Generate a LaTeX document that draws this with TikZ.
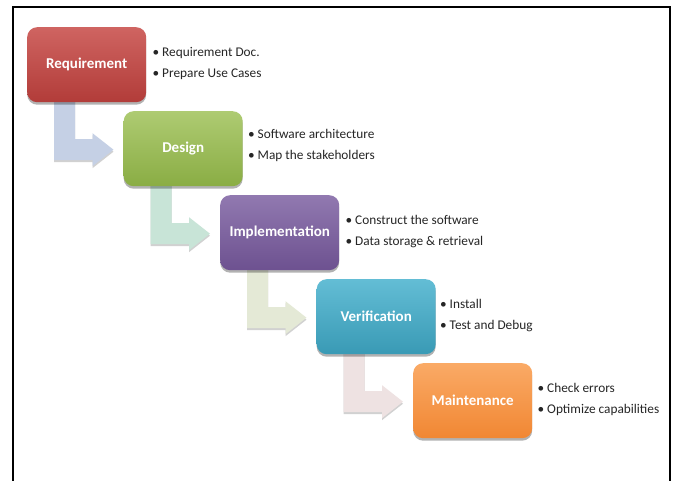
\documentclass[tikz,border=0pt]{standalone}
\usepackage{fontspec}
\setmainfont{Carlito}
\usetikzlibrary{calc,shadows,backgrounds}

% stage colours: lighter top, darker bottom
\definecolor{reqT}{HTML}{CF6461}\definecolor{reqB}{HTML}{B23C39}
\definecolor{desT}{HTML}{AECB72}\definecolor{desB}{HTML}{8AAD44}
\definecolor{impT}{HTML}{9179B0}\definecolor{impB}{HTML}{6D5190}
\definecolor{verT}{HTML}{63BDD5}\definecolor{verB}{HTML}{399AB5}
\definecolor{maiT}{HTML}{FAAA66}\definecolor{maiB}{HTML}{F18733}
% connector tints
\definecolor{arrA}{HTML}{C5D0E5}
\definecolor{arrB}{HTML}{C8E4D7}
\definecolor{arrC}{HTML}{E4E9D6}
\definecolor{arrD}{HTML}{EEE2E2}
\definecolor{bodytext}{HTML}{262626}

% bent arrow from the lower left of stage #1 to the west side of stage #2
\newcommand\bentarrow[3]{%
  \fill[#3, drop shadow={shadow xshift=0pt, shadow yshift=-2pt, opacity=.18, fill=black}]
    let \p1=($(#1.south west)+(27,-3)$), \p2=($(#2.west)+(-31,1)$) in
    (\x1,\y1) -- (\x1+21pt,\y1) -- (\x1+21pt,\y2+10.5pt) -- (\x2,\y2+10.5pt)
    -- (\x2,\y2+16.5pt) -- (\x2+21pt,\y2) -- (\x2,\y2-16.5pt)
    -- (\x2,\y2-10.5pt) -- (\x1,\y2-10.5pt) -- cycle;}

\begin{document}
\begin{tikzpicture}[x=1pt,y=-1pt,
  stage/.style={rounded corners=10pt, minimum width=119pt, minimum height=75pt,
    inner sep=0pt, anchor=north west, text=white,
    font=\fontsize{15}{18}\selectfont\bfseries,
    drop shadow={shadow xshift=0pt, shadow yshift=-2.5pt, opacity=.3, fill=black}},
  bullets/.style={anchor=west, align=left, inner sep=0pt, text=bodytext,
    font=\fontsize{13.3}{21}\selectfont}]
\useasboundingbox (0,0) rectangle (674,481);

% stages
\node[stage, top color=reqT, bottom color=reqB] (req) at (27,27) {Requirement};
\node[stage, top color=desT, bottom color=desB] (des) at (123.5,111) {Design};
\node[stage, top color=impT, bottom color=impB] (imp) at (220,195) {Implementation};
\node[stage, top color=verT, bottom color=verB] (ver) at (316.5,279) {Verification};
\node[stage, top color=maiT, bottom color=maiB] (mai) at (413,363) {Maintenance};

% connectors behind the stages
\begin{scope}[on background layer]
  \fill[white] (0,0) rectangle (674,481);
  \bentarrow{req}{des}{arrA}
  \bentarrow{des}{imp}{arrB}
  \bentarrow{imp}{ver}{arrC}
  \bentarrow{ver}{mai}{arrD}
\end{scope}

% notes beside each stage
\node[bullets] (reqn) at ($(req.east)+(6,-1)$) {\textbullet\ Requirement Doc.\\\textbullet\ Prepare Use Cases};
\node[bullets] (desn) at ($(des.east)+(5,-3)$) {\textbullet\ Software architecture\\\textbullet\ Map the stakeholders};
\node[bullets] (impn) at ($(imp.east)+(6,-1)$) {\textbullet\ Construct the software\\\textbullet\ Data storage \& retrieval};
\node[bullets] (vern) at ($(ver.east)+(4,-1)$) {\textbullet\ Install\\\textbullet\ Test and Debug};
\node[bullets] (main) at ($(mai.east)+(5,-1)$) {\textbullet\ Check errors\\\textbullet\ Optimize capabilities};

% frame, open at the bottom
\draw[line width=1.6pt] (13,481) -- (13,7) -- (670,7) -- (670,481);
\end{tikzpicture}
\end{document}
